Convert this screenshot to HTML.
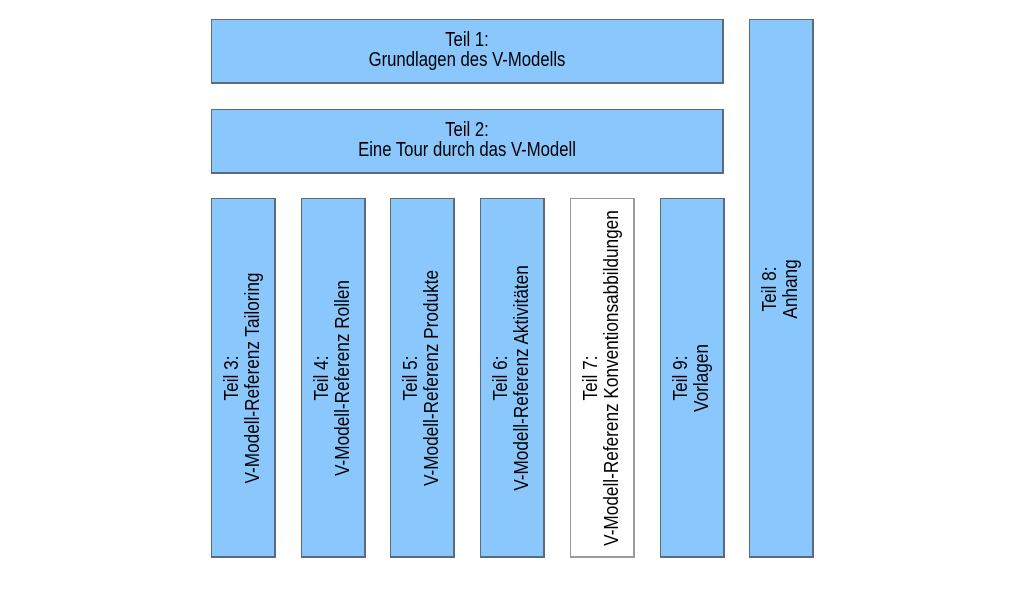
<!DOCTYPE html>
<html>
<head>
<meta charset="utf-8">
<style>
  html,body{margin:0;padding:0;background:#fff;}
  body{width:1024px;height:576px;position:relative;overflow:hidden;
       font-family:"Liberation Sans",Arial,sans-serif;color:#000;}
  .b{position:absolute;box-sizing:border-box;background:#89c7fd;
     border:1px solid #5d6b78;border-right-width:2px;border-bottom-width:2px;}
  .h{left:211px;width:513px;height:65px;}
  .ht{position:absolute;left:50%;top:50%;width:600px;text-align:center;font-size:20px;line-height:20px;
      transform:translate(-50%,-50%) translateY(-1px) scaleX(0.835);white-space:nowrap;}
  .c{top:198px;width:65px;height:360px;}
  .r{position:absolute;left:50%;top:50%;width:500px;text-align:center;font-size:20px;line-height:21px;
     transform:translate(-50%,-50%) rotate(-90deg) scaleX(0.86);white-space:nowrap;}
  .w{background:#fff;border-color:#9a9a9a;}
</style>
</head>
<body>
  <div class="b h" style="top:19px;"><div class="ht">Teil 1:<br>Grundlagen des V-Modells</div></div>
  <div class="b h" style="top:109px;"><div class="ht">Teil 2:<br>Eine Tour durch das V-Modell</div></div>

  <div class="b c" style="left:211px;"><div class="r">Teil 3:<br>V-Modell-Referenz Tailoring</div></div>
  <div class="b c" style="left:301px;"><div class="r">Teil 4:<br>V-Modell-Referenz Rollen</div></div>
  <div class="b c" style="left:390px;"><div class="r">Teil 5:<br>V-Modell-Referenz Produkte</div></div>
  <div class="b c" style="left:480px;"><div class="r">Teil 6:<br>V-Modell-Referenz Aktivitäten</div></div>
  <div class="b c w" style="left:570px;"><div class="r">Teil 7:<br>V-Modell-Referenz Konventionsabbildungen</div></div>
  <div class="b c" style="left:660px;"><div class="r">Teil 9:<br>Vorlagen</div></div>

  <div class="b" style="left:749px;top:19px;width:65px;height:539px;">
    <div class="r" style="top:269px;">Teil 8:<br>Anhang</div>
  </div>
</body>
</html>
